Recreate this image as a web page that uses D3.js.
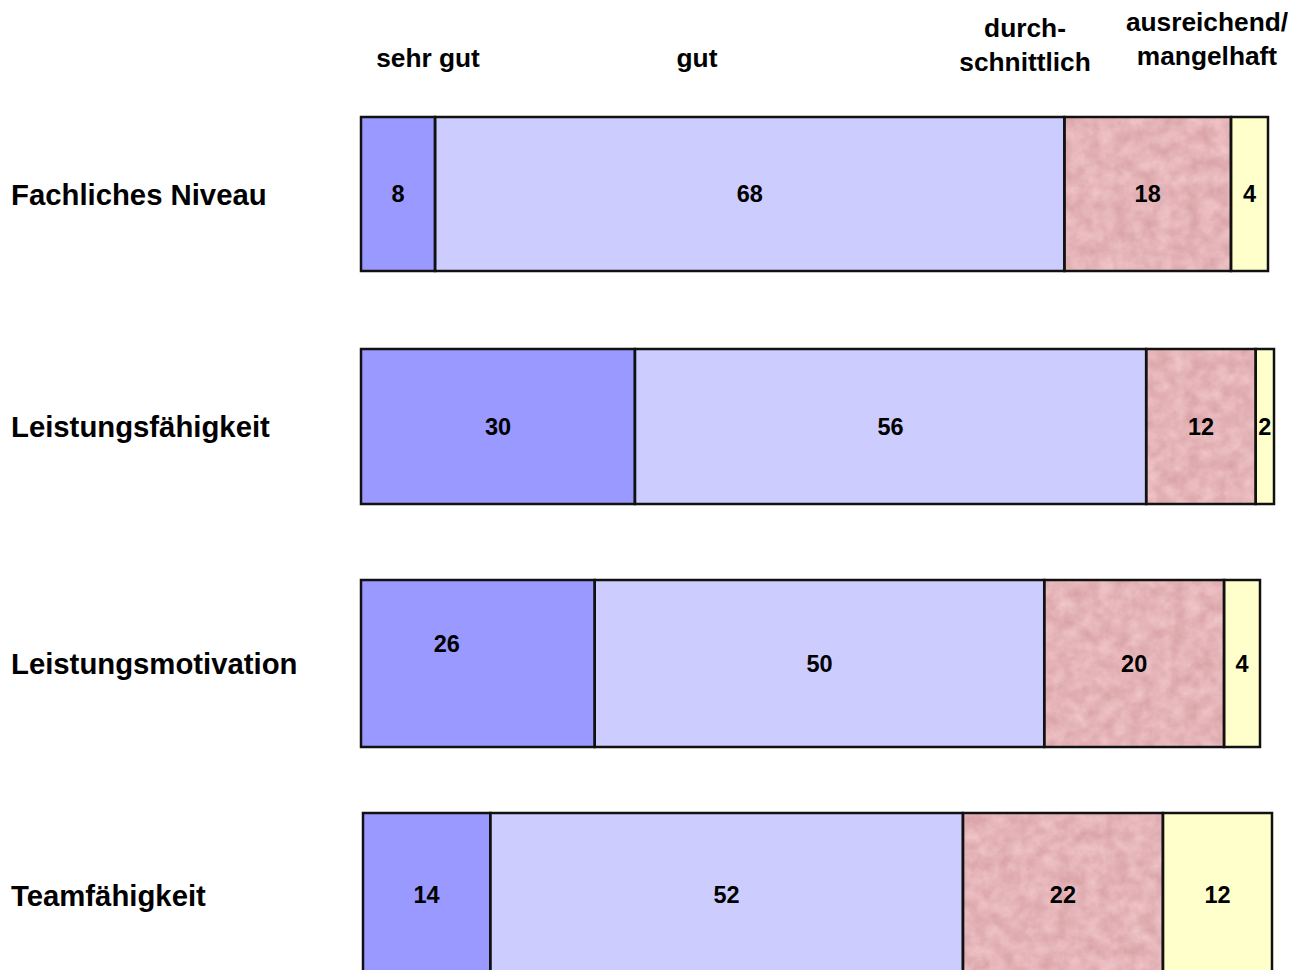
<!DOCTYPE html>
<html>
<head>
<meta charset="utf-8">
<script src="https://cdn.jsdelivr.net/npm/d3@7"></script>
<style>
  html, body { margin: 0; padding: 0; background: #fff; }
  svg { display: block; font-family: "Liberation Sans", Arial, sans-serif; font-weight: bold; }
</style>
</head>
<body>
<svg id="chart" width="1303" height="970"></svg>
<script>
// Rated attributes (rows) and rating categories (stacked segments)
const attributes = ["Fachliches Niveau", "Leistungsfähigkeit", "Leistungsmotivation", "Teamfähigkeit"];
const ratings = ["sehr gut", "gut", "durchschnittlich", "ausreichend/mangelhaft"];
const ratingHeaders = [["sehr gut"], ["gut"], ["durch-", "schnittlich"], ["ausreichend/", "mangelhaft"]];

// Percent shares per rating, one array per rating category
const sehrGut          = [8, 30, 26, 14];
const gutValues        = [68, 56, 50, 52];
const durchschnittlich = [18, 12, 20, 22];
const ausreichend      = [4, 2, 4, 12];

// Layout: extents of each bar and a few drawing constants
const barStart  = [361, 361, 361, 363];
const barEnd    = [1268, 1274, 1260, 1272];
const rowCenter = [194, 426.5, 663.5, 895];
const rowHeight = [154, 155, 167, 164];
const labelShift = [[[0, 0], [0, 0], [0, 0], [0, 0]],
                    [[0, 0], [0, 0], [0, 0], [0, 0]],
                    [[-31, -20], [0, 0], [0, 0], [0, 0]],
                    [[0, 0], [0, 0], [0, 0], [0, 0]]];
const headerX  = [428, 697, 1025, 1207];
const headerY  = [[67], [67], [37, 71], [31, 65]];
const colors   = ["#9999ff", "#ccccff", "#e3b3b7", "#ffffcc"];

const series = [sehrGut, gutValues, durchschnittlich, ausreichend];

const svg = d3.select("#chart");

// Marbled pink texture for the "durchschnittlich" segments
const defs = svg.append("defs");
const f = defs.append("filter").attr("id", "marble")
  .attr("x", 0).attr("y", 0).attr("width", 1).attr("height", 1)
  .attr("color-interpolation-filters", "sRGB");
f.append("feTurbulence").attr("type", "fractalNoise")
  .attr("baseFrequency", 0.07).attr("numOctaves", 4).attr("seed", 11).attr("result", "noise");
f.append("feColorMatrix").attr("in", "noise").attr("type", "matrix")
  .attr("values", [
    0.12, 0, 0, 0, 0.835,
    0.18, 0, 0, 0, 0.615,
    0.18, 0, 0, 0, 0.63,
    0, 0, 0, 0, 1
  ].join(" ")).attr("result", "tint");
f.append("feComposite").attr("in", "tint").attr("in2", "SourceGraphic").attr("operator", "in");

// Row positions
const y = d3.scaleOrdinal().domain(attributes).range(rowCenter);

// Row labels
svg.append("g").selectAll("text").data(attributes).join("text")
  .attr("x", 11)
  .attr("y", d => y(d))
  .attr("dy", "0.36em")
  .attr("font-size", 29.3)
  .attr("fill", "#000")
  .text(d => d);

// Column headers
const hdr = svg.append("g").selectAll("text").data(ratingHeaders).join("text")
  .attr("text-anchor", "middle")
  .attr("font-size", 26.3)
  .attr("fill", "#000");
hdr.each(function(lines, i) {
  d3.select(this).selectAll("tspan").data(lines).join("tspan")
    .attr("x", headerX[i])
    .attr("y", (d, j) => headerY[i][j])
    .text(d => d);
});

// Stacked bars
attributes.forEach((attr, r) => {
  const vals = series.map(s => s[r]);
  const total = d3.sum(vals);
  const x = d3.scaleLinear().domain([0, total]).range([barStart[r], barEnd[r]]);
  const cum = d3.cumsum([0, ...vals]);
  const segs = vals.map((v, k) => ({ v, k, x0: cum[k], x1: cum[k] + v }));

  const g = svg.append("g");
  const h = rowHeight[r];
  const top = y(attr) - h / 2;

  g.selectAll("rect.fill").data(segs).join("rect")
    .attr("class", "fill")
    .attr("x", d => x(d.x0))
    .attr("y", top)
    .attr("width", d => x(d.x1) - x(d.x0))
    .attr("height", h)
    .attr("fill", d => colors[d.k])
    .attr("filter", d => d.k === 2 ? "url(#marble)" : null);

  g.selectAll("rect.edge").data(segs).join("rect")
    .attr("class", "edge")
    .attr("x", d => x(d.x0))
    .attr("y", top)
    .attr("width", d => x(d.x1) - x(d.x0))
    .attr("height", h)
    .attr("fill", "none")
    .attr("stroke", "#111")
    .attr("stroke-width", 2.5);

  g.selectAll("text").data(segs).join("text")
    .attr("x", d => (x(d.x0) + x(d.x1)) / 2 + labelShift[r][d.k][0])
    .attr("y", d => y(attr) + labelShift[r][d.k][1])
    .attr("dy", "0.36em")
    .attr("text-anchor", "middle")
    .attr("font-size", 23.5)
    .attr("fill", "#000")
    .text(d => d.v);
});
</script>
</body>
</html>
